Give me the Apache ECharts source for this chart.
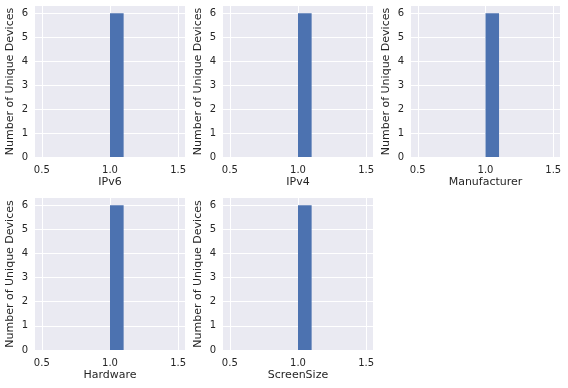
<!DOCTYPE html>
<html>
<head>
<meta charset="utf-8">
<script src="https://cdn.jsdelivr.net/npm/echarts@6/dist/echarts.min.js"></script>
<style>html,body{margin:0;padding:0;background:#fff}#c{width:568px;height:388px}</style>
</head>
<body>
<div id="c"></div>
<script>
const panelNames = ["IPv6", "IPv4", "Manufacturer", "Hardware", "ScreenSize"];
const binEdges = [0.5, 0.6, 0.7, 0.8, 0.9, 1.0, 1.1, 1.2, 1.3, 1.4, 1.5];
const countsIPv6 = [0, 0, 0, 0, 0, 6, 0, 0, 0, 0];
const countsIPv4 = [0, 0, 0, 0, 0, 6, 0, 0, 0, 0];
const countsManufacturer = [0, 0, 0, 0, 0, 6, 0, 0, 0, 0];
const countsHardware = [0, 0, 0, 0, 0, 6, 0, 0, 0, 0];
const countsScreenSize = [0, 0, 0, 0, 0, 6, 0, 0, 0, 0];
const xTicks = [0.5, 1.0, 1.5];
const yTicks = [0, 1, 2, 3, 4, 5, 6];
const yLabel = "Number of Unique Devices";

const allCounts = [countsIPv6, countsIPv4, countsManufacturer, countsHardware, countsScreenSize];
const gridPos = [
  {left: 35, top: 6, width: 150, height: 151},
  {left: 223, top: 6, width: 150, height: 151},
  {left: 411, top: 6, width: 149, height: 151},
  {left: 35, top: 198, width: 150, height: 152},
  {left: 223, top: 198, width: 150, height: 152}
];
const txt = '#262626';
const font = 'DejaVu Sans';
const grids = [], xAxes = [], yAxes = [], series = [];
panelNames.forEach((name, i) => {
  grids.push(Object.assign({backgroundColor: '#EAEAF2', show: true, borderWidth: 0}, gridPos[i]));
  xAxes.push({
    type: 'value', gridIndex: i, min: 0.45, max: 1.55,
    name: name, nameLocation: 'middle', nameGap: 20,
    nameTextStyle: {color: txt, fontFamily: font, fontSize: 11},
    axisLine: {show: false}, axisTick: {show: false, customValues: xTicks},
    axisLabel: {customValues: xTicks, color: txt, fontFamily: font, fontSize: 10, margin: 8,
      formatter: v => v.toFixed(1)},
    splitLine: {show: true, lineStyle: {color: '#fff', width: 1}}
  });
  yAxes.push({
    type: 'value', gridIndex: i, min: 0, max: 6.3,
    name: yLabel, nameLocation: 'middle', nameGap: 19,
    nameTextStyle: {color: txt, fontFamily: font, fontSize: 11},
    axisLine: {show: false}, axisTick: {show: false, customValues: yTicks},
    axisLabel: {customValues: yTicks, color: txt, fontFamily: font, fontSize: 10, margin: 7},
    splitLine: {show: true, lineStyle: {color: '#fff', width: 1}}
  });
  const data = allCounts[i].map((c, k) => [binEdges[k], binEdges[k + 1], c]);
  series.push({
    type: 'custom', xAxisIndex: i, yAxisIndex: i, data: data,
    encode: {x: [0, 1], y: 2},
    renderItem: (params, api) => {
      const p0 = api.coord([api.value(0), 0]);
      const p1 = api.coord([api.value(1), api.value(2)]);
      return {type: 'rect', shape: {x: p0[0], y: p1[1], width: p1[0] - p0[0], height: p0[1] - p1[1]},
        style: {fill: '#4C72B0'}};
    }
  });
});
const chart = echarts.init(document.getElementById('c'), null, {renderer: 'canvas'});
chart.setOption({animation: false, backgroundColor: '#fff', grid: grids, xAxis: xAxes, yAxis: yAxes, series: series});
</script>
</body>
</html>
